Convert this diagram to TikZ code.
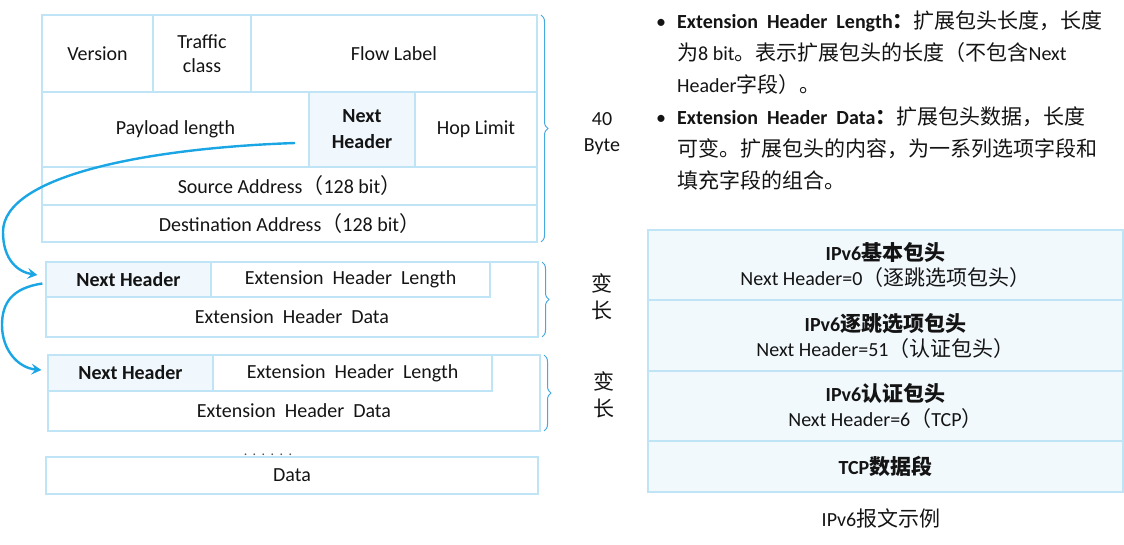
\documentclass[tikz,border=0pt]{standalone}
\usepackage{fontspec}
\setmainfont{Carlito}
\newfontfamily\cjk{Noto Sans CJK SC}[Scale=1.05]
\usetikzlibrary{arrows.meta,decorations.pathreplacing,calc}
\definecolor{lineblue}{RGB}{190,228,246}
\definecolor{nhfill}{RGB}{240,248,253}
\definecolor{tblfill}{RGB}{242,249,253}
\definecolor{arrowblue}{RGB}{26,166,228}
\definecolor{braceblue}{RGB}{70,170,225}
\definecolor{txt}{RGB}{20,20,20}
\newcommand\zh[1]{{\cjk #1}}
\newcommand\wsp{\hspace{9pt}}
\newcommand\cellbox[7][]{\node[cellst,#1,minimum width={(#5-#3)*1pt},minimum height={(#6-#4)*1pt}] (#2) at ({(#3+#5)/2},{(#4+#6)/2}) {#7};}
\begin{document}
\begin{tikzpicture}[x=1pt,y=-1pt,
  cellst/.style={draw=lineblue,line width=1.2pt,inner sep=0pt,align=center,font=\fontsize{20}{24}\selectfont,text=txt},
  nhst/.style={fill=nhfill},
  tblst/.style={fill=tblfill,font=\fontsize{20}{25}\selectfont},
  lbl/.style={inner sep=0pt,align=center,font=\fontsize{20}{24}\selectfont,text=txt},
  bul/.style={inner sep=0pt,font=\fontsize{20}{24}\selectfont,text=txt},
  conn/.style={draw=arrowblue,line width=2.4pt,-{Stealth[length=10pt,width=11pt,inset=4pt]}},
  brc/.style={draw=braceblue,line width=1pt,decorate,decoration={brace,amplitude=7pt}}]
\useasboundingbox (0,0) rectangle (1124,545);
% main IPv6 header
\cellbox{ver}{42}{15}{153}{92}{Version}
\cellbox{tc}{153}{15}{251}{92}{Traffic\\class}
\cellbox{fl}{251}{15}{537}{92}{Flow Label}
\cellbox{pl}{42}{92}{309}{167}{Payload length}
\cellbox[nhst,font=\fontsize{20}{26}\selectfont\bfseries]{nh0}{309}{92}{415}{167}{Next\\Header}
\cellbox{hl}{415}{92}{537}{167}{Hop Limit}
\cellbox{sa}{42}{167}{537}{205}{Source Address\zh{（}128 bit\zh{）}}
\cellbox{da}{42}{205}{537}{242}{Destination Address\zh{（}128 bit\zh{）}}
\draw[brc] (541,15) -- (541,242);
\node[lbl,font=\fontsize{20}{26}\selectfont] (b40) at (602,134) {40\\Byte};
% extension header 1
\cellbox{ext1}{46}{262}{538}{337}{}
\cellbox[nhst,font=\fontsize{20}{24}\selectfont\bfseries]{nh1}{46}{262}{211}{297}{Next Header}
\cellbox{ehl1}{211}{262}{490}{297}{Extension\wsp Header\wsp Length}
\node[lbl] (ehd1) at (292,317) {Extension\wsp Header\wsp Data};
\draw[brc] (542,262) -- (542,337);
\node[lbl,font=\fontsize{20}{27}\selectfont] (v1) at (602,297) {\zh{变}\\\zh{长}};
% extension header 2
\cellbox{ext2}{48}{355}{540}{431}{}
\cellbox[nhst,font=\fontsize{20}{24}\selectfont\bfseries]{nh2}{48}{355}{213}{391}{Next Header}
\cellbox{ehl2}{213}{355}{492}{391}{Extension\wsp Header\wsp Length}
\node[lbl] (ehd2) at (294,411) {Extension\wsp Header\wsp Data};
\draw[brc] (544,355) -- (544,431);
\node[lbl,font=\fontsize{20}{27}\selectfont] (v2) at (604,395) {\zh{变}\\\zh{长}};
% data
\cellbox{data}{46}{457}{538}{494}{Data}
\node[lbl,text=black!70,font=\fontsize{14}{14}\selectfont\addfontfeature{LetterSpace=39}] (dots) at (268,455) {......};
% arrows
\coordinate (a1s) at (295,143);
\draw[conn] (a1s) .. controls (150,148) and (3,175) .. (3,232) .. controls (3,260) and (18,272) .. ([shift={(-8,-4.5)}]nh1.west);
\draw[conn] ([shift={(-3,4)}]nh1.west) .. controls (12,288) and (2,303) .. (2,325) .. controls (2,350) and (18,368) .. ([shift={(-6,-3)}]nh2.west);
% bullets
\node[bul,anchor=base] (d1) at (661,29) {•};
\node[bul,anchor=base west] (t1) at (677,29) {{\bfseries Extension\wsp Header\wsp Length\zh{：}}\zh{扩展包头长度，长度}};
\node[bul,anchor=base west] (t2) at (677,61) {\zh{为}8 bit\zh{。表示扩展包头的长度（不包含}Next};
\node[bul,anchor=base west] (t3) at (677,93) {Header\zh{字段）。}};
\node[bul,anchor=base] (d2) at (661,125) {•};
\node[bul,anchor=base west] (t4) at (677,125) {{\bfseries Extension\wsp Header\wsp Data\zh{：}}\zh{扩展包头数据，长度}};
\node[bul,anchor=base west] (t5) at (677,157) {\zh{可变。扩展包头的内容，为一系列选项字段和}};
\node[bul,anchor=base west] (t6) at (677,189) {\zh{填充字段的组合。}};
% example table
\cellbox[tblst]{r1}{648}{230}{1123}{300}{{\bfseries IPv6\zh{基本包头}}\\Next Header=0\zh{（逐跳选项包头）}}
\cellbox[tblst]{r2}{648}{300}{1123}{371}{{\bfseries IPv6\zh{逐跳选项包头}}\\Next Header=51\zh{（认证包头）}}
\cellbox[tblst]{r3}{648}{371}{1123}{441}{{\bfseries IPv6\zh{认证包头}}\\Next Header=6\zh{（}TCP\zh{）}}
\cellbox[tblst]{r4}{648}{441}{1123}{492}{{\bfseries TCP\zh{数据段}}}
\node[lbl] (cap) at (881,518) {IPv6\zh{报文示例}};
\end{tikzpicture}
\end{document}
